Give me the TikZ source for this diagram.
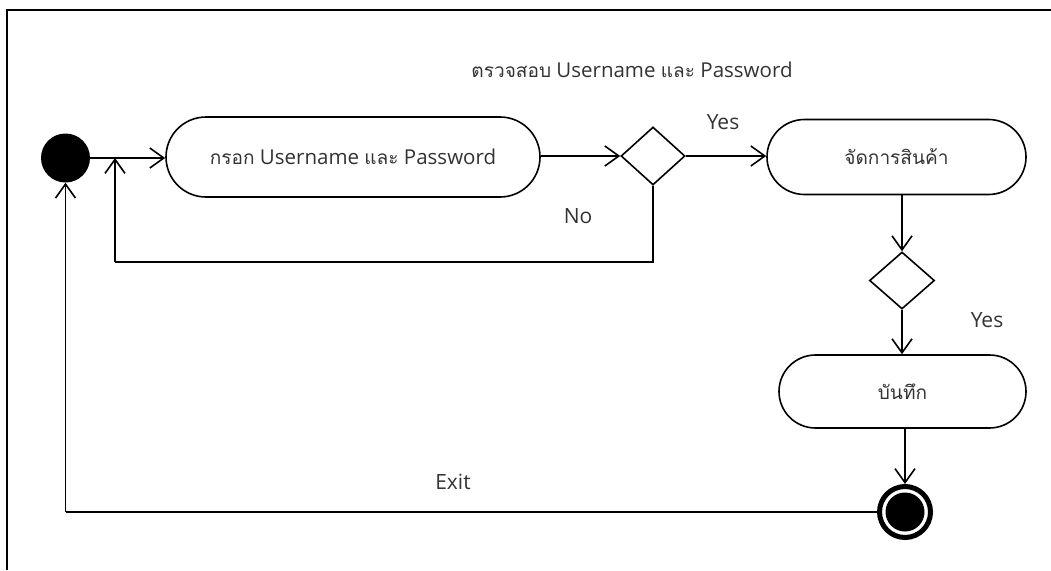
\documentclass[tikz,border=0pt]{standalone}
\usepackage{fontspec}
\setmainfont{Open Sans}
\newfontfamily\thaifont[Script=Thai,Scale=0.93]{Loma}
\usetikzlibrary{arrows.meta,shapes.geometric,shapes.misc}
\begin{document}
\begin{tikzpicture}[x=1pt,y=-1pt,
  txt/.style={font=\fontsize{20.5}{24}\selectfont, text=black!80},
  act/.style={draw, line width=1.6pt, rounded rectangle, inner sep=0pt, txt},
  dec/.style={draw, line width=1.6pt, diamond, inner sep=0pt},
  arr/.style={line width=1.6pt, -{Straight Barb[length=14pt,width=20pt,line width=1.6pt]}},
  ln/.style={line width=1.6pt},
  lbl/.style={font=\fontsize{21}{24}\selectfont, text=black!80}]
\useasboundingbox (0,0) rectangle (1051,570);
\draw[line width=2pt] (7,570) -- (7,10) -- (1051,10);

\node[circle, fill=black, minimum size=49pt, inner sep=0pt] (start) at (65.5,158) {};
\node[act, minimum width=374pt, minimum height=80pt] (act1) at (353,157) {{\thaifont กรอก} Username {\thaifont และ} Password};
\node[dec, minimum width=64pt, minimum height=58pt] (d1) at (653,156) {};
\node[act, minimum width=259pt, minimum height=75pt] (act2) at (896.5,157) {\thaifont จัดการสินค้า};
\node[dec, minimum width=65pt, minimum height=57pt] (d2) at (902,280.5) {};
\node[act, minimum width=247pt, minimum height=73pt] (act3) at (902.5,391.5) {\thaifont บันทึก};
\node[circle, draw, fill=white, line width=5pt, minimum size=51pt, inner sep=0pt] (endn) at (905,512) {};
\fill (endn.center) circle (19.5);

\coordinate (j1) at (115,158);
\coordinate (j1b) at (115,262);
\coordinate (j2) at (65.5,512);

\draw[arr] (start.east) -- (act1.west |- start.east);
\draw[arr] (act1.east |- d1.west) -- (d1.west);
\draw[arr] (d1.east) -- (act2.west |- d1.east);
\draw[ln] (d1.south) |- (j1b);
\draw[arr] (j1b) -- (j1);
\draw[arr] (d2.north |- act2.south) -- (d2.north);
\draw[arr] (d2.south) -- (d2.south |- act3.north);
\draw[arr] (endn.north |- act3.south) -- (endn.north);
\draw[ln] (endn.west) -- (j2);
\draw[arr] (j2) -- (start.south);

\node[txt] (ttl) at (632,70) {{\thaifont ตรวจสอบ} Username {\thaifont และ} Password};
\node[lbl] (yes1) at (723,122) {Yes};
\node[lbl] (no1) at (578,216) {No};
\node[lbl] (yes2) at (987,320) {Yes};
\node[lbl] (exit) at (453,482) {Exit};
\end{tikzpicture}
\end{document}
